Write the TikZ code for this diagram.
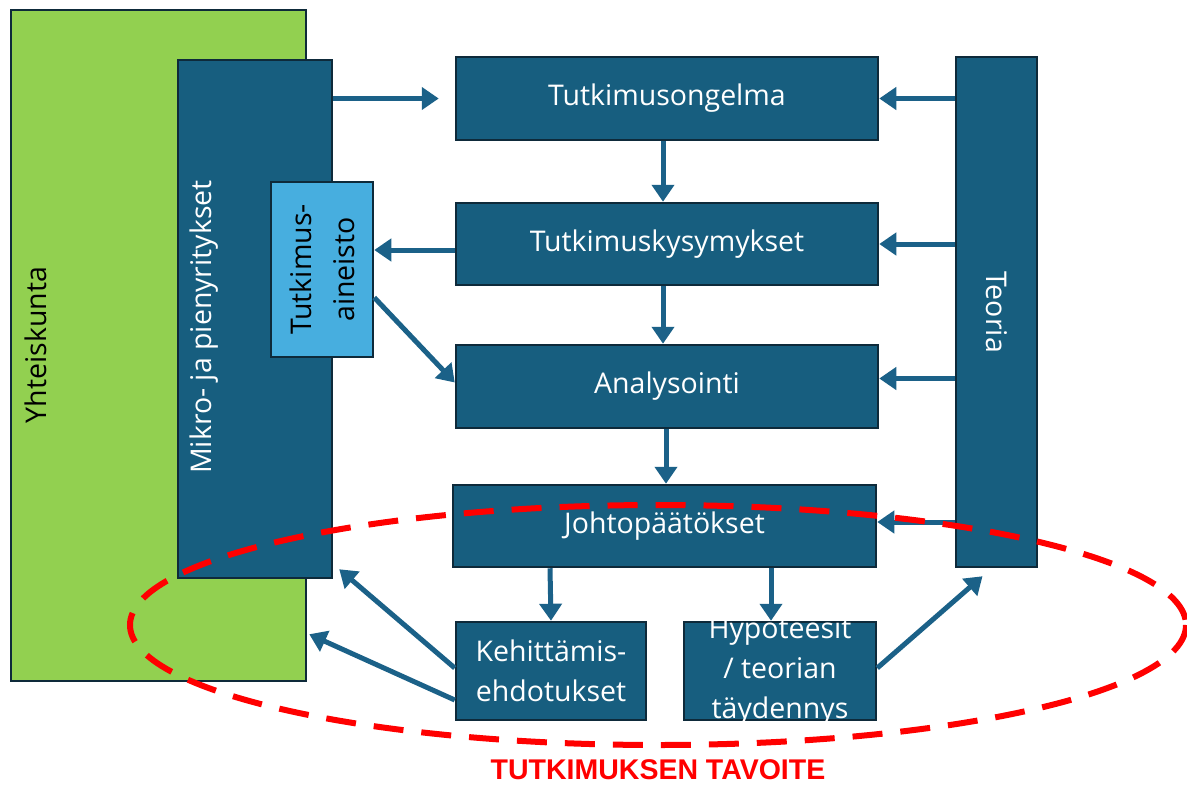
\documentclass[tikz,border=0pt]{standalone}
\usepackage{fontspec}
\setmainfont{Open Sans}
\newfontfamily\goalfont{Liberation Sans}
\usetikzlibrary{arrows.meta}
\definecolor{boxfill}{HTML}{175E7F}
\definecolor{boxline}{HTML}{0E2A3A}
\definecolor{lightbox}{HTML}{47AEDF}
\definecolor{greenbox}{HTML}{92D050}
\definecolor{arrcol}{HTML}{1B6188}
\definecolor{goalred}{HTML}{FF0000}
\begin{document}
\begin{tikzpicture}[x=1pt,y=-1pt,
  box/.style={draw=boxline, line width=2.5pt, fill=boxfill, text=white, inner sep=0pt, font=\fontsize{28.5}{40}\selectfont, align=center},
  lbox/.style={box, fill=lightbox, text=black},
  gbox/.style={box, fill=greenbox, text=black},
  lbl/.style={inner sep=0pt, font=\fontsize{28.5}{40}\selectfont},
  arr/.style={draw=arrcol, line width=5pt, -{Triangle[width=22pt,length=17pt]}},
  goal/.style={draw=goalred, line width=6pt, dash pattern=on 30pt off 18pt}
]
\useasboundingbox (0,0) rectangle (1187,785);
% boxes
\node[gbox, minimum width=295, minimum height=671] (yht) at (158.5,345.5) {};
\node[lbl, rotate=90] (yhtt) at (36,345) {Yhteiskunta};
\node[box, minimum width=154, minimum height=518] (mikro) at (255,319) {};
\node[lbl, rotate=90, text=white] (mikrot) at (204,327) {Mikro- ja pienyritykset};
\node[lbox, minimum width=102, minimum height=175,
  label={[lbl, rotate=90, align=center, font=\fontsize{28.5}{43}\selectfont]center:Tutkimus-\\aineisto}] (aineisto) at (322,269.5) {};
\node[box, minimum width=422, minimum height=83] (ongelma) at (667,98.5) {Tutkimusongelma};
\node[box, minimum width=422, minimum height=82] (kysym) at (667,244) {Tutkimuskysymykset};
\node[box, minimum width=422, minimum height=83] (analys) at (667,386.5) {Analysointi};
\node[box, minimum width=423, minimum height=82] (johto) at (664.5,526) {Johtopäätökset};
\node[box, minimum width=81, minimum height=510,
  label={[lbl, rotate=-90, text=white]center:Teoria}] (teoria) at (996.5,312) {};
\node[box, minimum width=190, minimum height=98] (kehit) at (551,671) {Kehittämis-\\ehdotukset};
\node[box, minimum width=192, minimum height=98,
  label={[lbl, text=white, align=center]center:Hypoteesit\\/ teorian\\täydennys}] (hypo) at (780,671) {};
% arrows
\draw[arr] (mikro.east |- ongelma.west) -- ([xshift=-16]ongelma.west);
\draw[arr] (teoria.west |- ongelma.east) -- (ongelma.east);
\draw[arr] ([xshift=-4]ongelma.south) -- ([xshift=-4]kysym.north);
\draw[arr] (teoria.west |- kysym.east) -- (kysym.east);
\draw[arr] ([yshift=-6]kysym.west) -- ([yshift=-6]kysym.west -| aineisto.east);
\draw[arr] ([xshift=-4]kysym.south) -- ([xshift=-4]analys.north);
\draw[arr] ([yshift=-28]aineisto.east) -- ([yshift=4]analys.west);
\draw[arr] ([yshift=8]teoria.west |- analys.east) -- ([yshift=8]analys.east);
\draw[arr] ([xshift=-1]analys.south) -- ([xshift=1.5]johto.north);
\draw[arr] ([yshift=4]teoria.west |- johto.east) -- ([yshift=4]johto.east);
\draw[arr] ([xshift=-1]johto.south -| kehit.north) -- (kehit.north);
\draw[arr] ([xshift=-9]johto.south -| hypo.north) -- ([xshift=-9]hypo.north);
\draw[arr] ([yshift=3]kehit.west) -- ([xshift=6,yshift=10]mikro.south east);
\draw[arr] ([yshift=-29]kehit.west) -- ([xshift=2,yshift=48]yht.south east);
\draw[arr] ([yshift=3]hypo.east) -- ([xshift=-14,yshift=-8]teoria.south);
% goal ellipse
\draw[goal] (658,625) ellipse [x radius=528, y radius=120];
\node[text=goalred, font=\goalfont\fontsize{28.5}{32}\selectfont\bfseries, inner sep=0pt] (goalt) at (658,770) {TUTKIMUKSEN TAVOITE};
\end{tikzpicture}
\end{document}
